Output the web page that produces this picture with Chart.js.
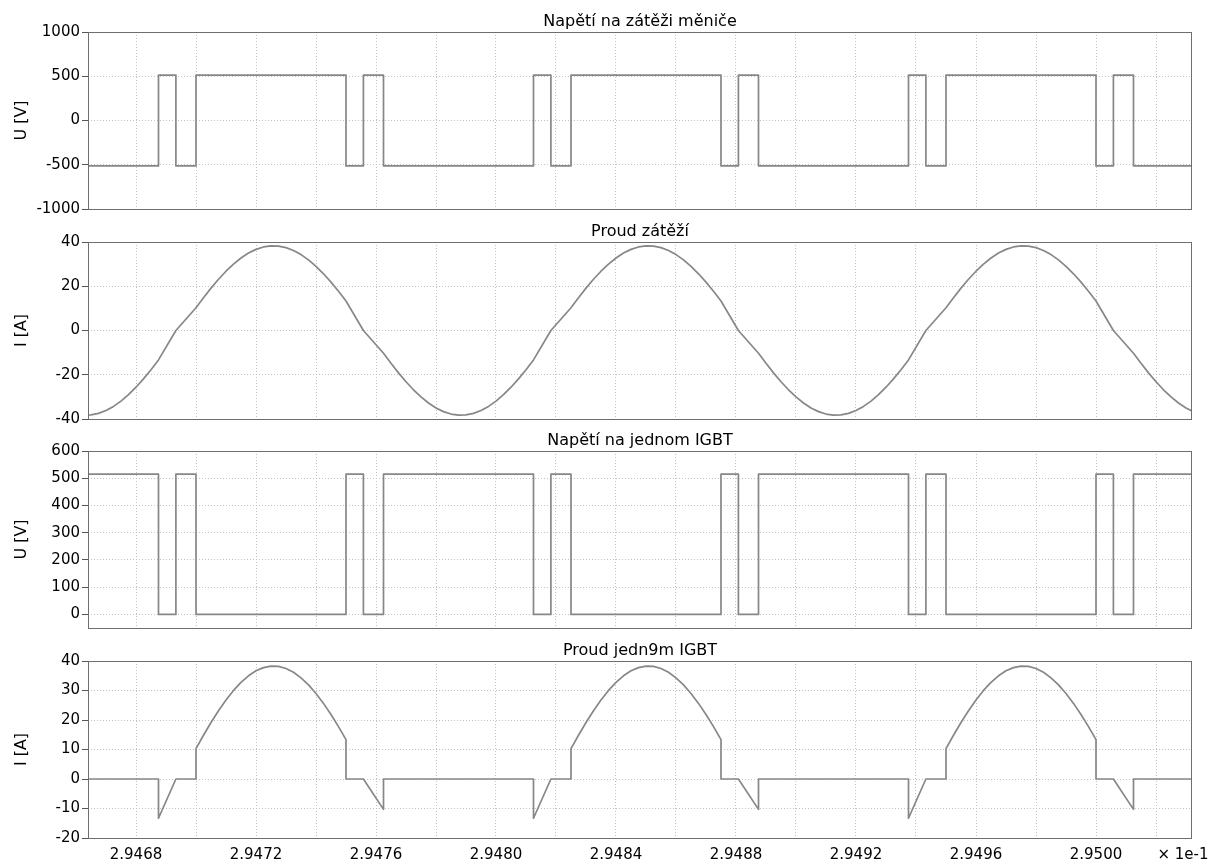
<!DOCTYPE html>
<html><head><meta charset="utf-8">
<script src="https://cdn.jsdelivr.net/npm/chart.js@4.4.0/dist/chart.umd.min.js"></script>
<style>
html,body{margin:0;padding:0;background:#fff;width:1230px;height:864px;overflow:hidden}
canvas{position:absolute;left:0}
</style></head><body>
<canvas id="c1" width="1230" height="230" style="top:0px"></canvas>
<canvas id="c2" width="1230" height="230" style="top:210px"></canvas>
<canvas id="c3" width="1230" height="230" style="top:420px"></canvas>
<canvas id="c4" width="1230" height="234" style="top:630px"></canvas>
<script>
// ---- data (time axis in units of 1e-1 s) ----
const xMin = 2.94664, xMax = 2.95032, xTickStep = 0.0002;

const switchTimes = [2.94664, 2.946875, 2.946933, 2.947, 2.9475, 2.947558, 2.947625,
  2.948125, 2.948183, 2.94825, 2.94875, 2.948808, 2.948875,
  2.949375, 2.949433, 2.9495, 2.95, 2.950058, 2.950125, 2.95032];
const loadVoltage = [-513, 513, -513, 513, -513, 513, -513, 513, -513, 513,
  -513, 513, -513, 513, -513, 513, -513, 513, -513, -513];
const igbtVoltage = [515, 0, 515, 0, 515, 0, 515, 0, 515, 0,
  515, 0, 515, 0, 515, 0, 515, 0, 515, 515];

const loadCurrentT = [
  2.94664, 2.94665, 2.946675, 2.9467, 2.946725, 2.94675, 2.946775, 2.9468, 2.946825, 2.94685,
  2.946875, 2.946933,
  2.947, 2.947025, 2.94705, 2.947075, 2.9471, 2.947125, 2.94715, 2.947175, 2.9472, 2.947225, 2.94725,
  2.947275, 2.9473, 2.947325, 2.94735, 2.947375, 2.9474, 2.947425, 2.94745, 2.947475, 2.9475,
  2.947558,
  2.947625, 2.94765, 2.947675, 2.9477, 2.947725, 2.94775, 2.947775, 2.9478, 2.947825, 2.94785,
  2.947875, 2.9479, 2.947925, 2.94795, 2.947975, 2.948, 2.948025, 2.94805, 2.948075, 2.9481,
  2.948125, 2.948183,
  2.94825, 2.948275, 2.9483, 2.948325, 2.94835, 2.948375, 2.9484, 2.948425, 2.94845, 2.948475, 2.9485,
  2.948525, 2.94855, 2.948575, 2.9486, 2.948625, 2.94865, 2.948675, 2.9487, 2.948725, 2.94875,
  2.948808,
  2.948875, 2.9489, 2.948925, 2.94895, 2.948975, 2.949, 2.949025, 2.94905, 2.949075, 2.9491,
  2.949125, 2.94915, 2.949175, 2.9492, 2.949225, 2.94925, 2.949275, 2.9493, 2.949325, 2.94935,
  2.949375, 2.949433,
  2.9495, 2.949525, 2.94955, 2.949575, 2.9496, 2.949625, 2.94965, 2.949675, 2.9497, 2.949725, 2.94975,
  2.949775, 2.9498, 2.949825, 2.94985, 2.949875, 2.9499, 2.949925, 2.94995, 2.949975, 2.95,
  2.950058,
  2.950125, 2.95015, 2.950175, 2.9502, 2.950225, 2.95025, 2.950275, 2.9503, 2.95032];
const loadCurrentV = [
  -38.2, -38.17, -37.46, -36.17, -34.3, -31.9, -28.99, -25.63, -21.86, -17.75,
  -13.3, 0,
  10.3, 14.84, 19.15, 23.16, 26.8, 30.02, 32.76, 34.99, 36.67, 37.76, 38.27,
  38.17, 37.46, 36.17, 34.3, 31.9, 28.99, 25.63, 21.86, 17.75, 13.35,
  0,
  -10.3, -14.84, -19.15, -23.16, -26.8, -30.02, -32.76, -34.99, -36.67, -37.76,
  -38.27, -38.17, -37.46, -36.17, -34.3, -31.9, -28.99, -25.63, -21.86, -17.75,
  -13.3, 0,
  10.3, 14.84, 19.15, 23.16, 26.8, 30.02, 32.76, 34.99, 36.67, 37.76, 38.27,
  38.17, 37.46, 36.17, 34.3, 31.9, 28.99, 25.63, 21.86, 17.75, 13.35,
  0,
  -10.3, -14.84, -19.15, -23.16, -26.8, -30.02, -32.76, -34.99, -36.67, -37.76,
  -38.27, -38.17, -37.46, -36.17, -34.3, -31.9, -28.99, -25.63, -21.86, -17.75,
  -13.3, 0,
  10.3, 14.84, 19.15, 23.16, 26.8, 30.02, 32.76, 34.99, 36.67, 37.76, 38.27,
  38.17, 37.46, 36.17, 34.3, 31.9, 28.99, 25.63, 21.86, 17.75, 13.35,
  0,
  -10.3, -14.84, -19.15, -23.16, -26.8, -30.02, -32.76, -34.99, -36.4];

const igbtCurrentT = [
  2.94664, 2.946875, 2.946875, 2.946933, 2.947,
  2.947, 2.947025, 2.94705, 2.947075, 2.9471, 2.947125, 2.94715, 2.947175, 2.9472, 2.947225, 2.94725,
  2.947275, 2.9473, 2.947325, 2.94735, 2.947375, 2.9474, 2.947425, 2.94745, 2.947475, 2.9475,
  2.9475, 2.947558, 2.947625, 2.947625,
  2.948125, 2.948125, 2.948183, 2.94825,
  2.94825, 2.948275, 2.9483, 2.948325, 2.94835, 2.948375, 2.9484, 2.948425, 2.94845, 2.948475, 2.9485,
  2.948525, 2.94855, 2.948575, 2.9486, 2.948625, 2.94865, 2.948675, 2.9487, 2.948725, 2.94875,
  2.94875, 2.948808, 2.948875, 2.948875,
  2.949375, 2.949375, 2.949433, 2.9495,
  2.9495, 2.949525, 2.94955, 2.949575, 2.9496, 2.949625, 2.94965, 2.949675, 2.9497, 2.949725, 2.94975,
  2.949775, 2.9498, 2.949825, 2.94985, 2.949875, 2.9499, 2.949925, 2.94995, 2.949975, 2.95,
  2.95, 2.950058, 2.950125, 2.950125, 2.95032];
const igbtCurrentV = [
  0, 0, -13.3, 0, 0,
  10.3, 14.84, 19.15, 23.16, 26.8, 30.02, 32.76, 34.99, 36.67, 37.76, 38.27,
  38.17, 37.46, 36.17, 34.3, 31.9, 28.99, 25.63, 21.86, 17.75, 13.35,
  0, 0, -10.3, 0,
  0, -13.3, 0, 0,
  10.3, 14.84, 19.15, 23.16, 26.8, 30.02, 32.76, 34.99, 36.67, 37.76, 38.27,
  38.17, 37.46, 36.17, 34.3, 31.9, 28.99, 25.63, 21.86, 17.75, 13.35,
  0, 0, -10.3, 0,
  0, -13.3, 0, 0,
  10.3, 14.84, 19.15, 23.16, 26.8, 30.02, 32.76, 34.99, 36.67, 37.76, 38.27,
  38.17, 37.46, 36.17, 34.3, 31.9, 28.99, 25.63, 21.86, 17.75, 13.35,
  0, 0, -10.3, 0, 0];

const panelTitles = ['Napětí na zátěži měniče', 'Proud zátěží', 'Napětí na jednom IGBT', 'Proud jedn9m IGBT'];
const axisTitles = ['U [V]', 'I [A]', 'U [V]', 'I [A]'];
const xUnitNote = '× 1e-1';

// ---- rendering ----
const FONT = 'DejaVu Sans';
const toPts = (t, v) => t.map((x, i) => ({x: x, y: v[i]}));

const decor = {
  id: 'decor',
  afterDatasetsDraw(chart, args, o) {
    const {ctx, chartArea: a} = chart;
    ctx.save();
    ctx.strokeStyle = '#6e6e6e';
    ctx.lineWidth = 1;
    ctx.strokeRect(Math.round(a.left) + 0.5, Math.round(a.top) + 0.5,
      Math.round(a.right - a.left) - 1, Math.round(a.bottom - a.top));
    ctx.fillStyle = '#000';
    ctx.font = '16px "' + FONT + '"';
    ctx.textAlign = 'center';
    ctx.textBaseline = 'alphabetic';
    ctx.fillText(o.title, (a.left + a.right) / 2, a.top - 6);
    ctx.save();
    ctx.translate(26, (a.top + a.bottom) / 2);
    ctx.rotate(-Math.PI / 2);
    ctx.fillText(o.yTitle, 0, 0);
    ctx.restore();
    if (o.note) {
      ctx.font = '15px "' + FONT + '"';
      ctx.textBaseline = 'middle';
      ctx.fillText(o.note, 1183, a.bottom + 17);
    }
    ctx.restore();
  }
};

function makeChart(id, pts, stepped, yMin, yMax, yStep, idx, showX, padTop, padBottom) {
  const tickFont = {family: FONT, size: 15};
  return new Chart(document.getElementById(id), {
    type: 'line',
    data: {datasets: [{data: pts, borderColor: '#878787', borderWidth: 1.7, pointRadius: 0,
      stepped: stepped, tension: 0, fill: false, borderJoinStyle: 'round'}]},
    options: {
      responsive: false, animation: false, events: [],
      layout: {padding: {top: padTop, bottom: padBottom, left: 0, right: 38}},
      plugins: {legend: {display: false}, tooltip: {enabled: false},
        decor: {title: panelTitles[idx], yTitle: axisTitles[idx], note: showX ? xUnitNote : null}},
      scales: {
        x: {type: 'linear', min: xMin, max: xMax,
          border: {display: false, dash: [1, 2]},
          grid: {color: '#c2c2c2', drawTicks: false, lineWidth: 1},
          ticks: {display: showX, stepSize: xTickStep, includeBounds: false, autoSkip: false,
            maxRotation: 0, minRotation: 0, padding: 8, color: '#000', font: tickFont,
            callback: v => (Math.round(v * 10000) % 4 === 0 ? v.toFixed(4) : '')},
          afterFit: s => { s.height = showX ? 26 : 0; }},
        y: {type: 'linear', min: yMin, max: yMax,
          border: {display: false, dash: [1, 2]},
          grid: {color: '#c2c2c2', tickColor: '#555', tickLength: 6, tickBorderDash: [], lineWidth: 1},
          ticks: {stepSize: yStep, includeBounds: false, padding: 2, color: '#000', font: tickFont,
            callback: v => String(v)},
          afterFit: s => { s.width = 88; }}
      }
    },
    plugins: [decor]
  });
}

makeChart('c1', toPts(switchTimes, loadVoltage), true, -1000, 1000, 500, 0, false, 32, 21);
makeChart('c2', toPts(loadCurrentT, loadCurrentV), false, -40, 40, 20, 1, false, 32, 21);
makeChart('c3', toPts(switchTimes, igbtVoltage), true, -50, 600, 100, 2, false, 31, 22);
makeChart('c4', toPts(igbtCurrentT, igbtCurrentV), false, -20, 40, 10, 3, true, 31, 0);
</script>
</body></html>
